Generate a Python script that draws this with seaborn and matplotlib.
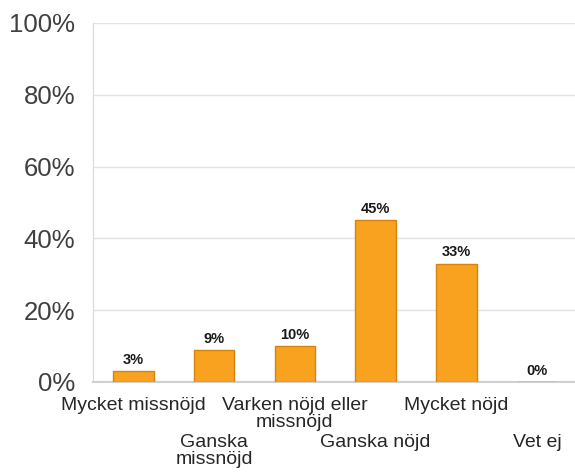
import matplotlib
matplotlib.use("Agg")
import matplotlib.pyplot as plt
import matplotlib.transforms as mtransforms
import seaborn as sns
import pandas as pd
from matplotlib.ticker import FuncFormatter

categories = ["Mycket missnöjd", "Ganska missnöjd", "Varken nöjd eller missnöjd",
              "Ganska nöjd", "Mycket nöjd", "Vet ej"]
tick_labels = ["Mycket missnöjd", "Ganska\nmissnöjd", "Varken nöjd eller\nmissnöjd",
               "Ganska nöjd", "Mycket nöjd", "Vet ej"]
values = [3, 9, 10, 45, 33, 0]

sns.set_style("white")
plt.rcParams['font.family'] = ['Liberation Sans', 'DejaVu Sans']

df = pd.DataFrame({"cat": categories, "val": values})

fig = plt.figure(figsize=(5.75, 4.73), dpi=100)
ax = fig.add_axes([0.162, 0.1924, 0.838, 0.759])

sns.barplot(data=df, x="cat", y="val", color="#F8A21F", width=0.5,
            edgecolor="#D4840F", linewidth=1.0, saturation=1, ax=ax, zorder=3)

ax.set_ylim(0, 100)
ax.set_xlim(-0.5, 5.47)
ax.set_yticks([0, 20, 40, 60, 80, 100])
ax.yaxis.set_major_formatter(FuncFormatter(lambda v, p: f"{int(v)}%"))
ax.grid(axis="y", color="#E3E3E3", linewidth=1, zorder=0)
ax.set_xlabel("")
ax.set_ylabel("")
ax.set_xticks(range(len(categories)))
ax.set_xticklabels(tick_labels, fontsize=14, color="#262626", linespacing=1.0)
ax.tick_params(axis="y", labelsize=18.5, colors="#404040", length=0, pad=13)
ax.tick_params(axis="x", length=0, pad=11)

# every second label goes on a lower row
shift = mtransforms.ScaledTranslation(0, -0.37, fig.dpi_scale_trans)
for i, lbl in enumerate(ax.get_xticklabels()):
    if i % 2 == 1:
        lbl.set_transform(lbl.get_transform() + shift)

for s in ["top", "right"]:
    ax.spines[s].set_visible(False)
ax.spines["left"].set_color("#D9D9D9")
ax.spines["bottom"].set_color("#D0D0D0")
ax.spines["bottom"].set_linewidth(1.5)

for cont in ax.containers:
    ax.bar_label(cont, labels=[f"{v}%" for v in values], fontsize=10.5, fontweight="bold",
                 color="#1a1a1a", padding=3)

fig.savefig("out.png", dpi=100)
